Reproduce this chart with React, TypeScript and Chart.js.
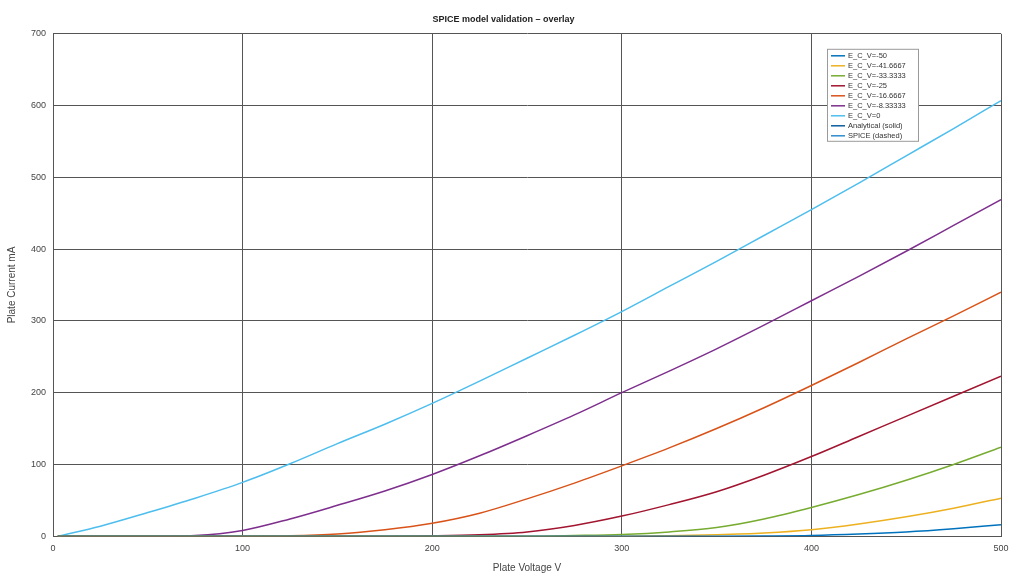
import React, { useEffect, useRef } from "react";
import { Chart, registerables } from "chart.js";

Chart.register(...registerables);

const FONT = "'Liberation Sans', Arial, sans-serif";

// plate voltage samples (V)
const voltages = [
  2.5, 25, 50, 75, 100, 125, 150, 175, 200, 225, 250, 275, 300, 325, 350, 375,
  400, 425, 450, 475, 500,
];

// plate current (mA)
const ecMinus50 = [
  0, 0, 0, 0, 0, 0, 0, 0, 0, 0, 0, 0, 0, 0, 0, 0.3, 1, 3, 6, 10.5, 16,
];
const ecMinus41 = [
  0, 0, 0, 0, 0, 0, 0, 0, 0, 0, 0, 0, 0, 0.5, 2, 4.5, 9, 17, 27, 39, 53,
];
const ecMinus33 = [
  0, 0, 0, 0, 0, 0, 0, 0, 0, 0, 0, 1, 2.5, 6, 12, 24, 40, 58, 78, 100, 124,
];
const ecMinus25 = [
  0, 0, 0, 0, 0, 0, 0, 0, 0.5, 2, 6, 15, 28, 44, 62, 85, 111, 139, 167, 195,
  223,
];
const ecMinus16 = [
  0, 0, 0, 0, 0, 0.5, 3, 9, 18, 32, 52, 74, 98, 123, 150, 179, 210, 242, 275,
  307, 340,
];
const ecMinus8 = [
  0, 0, 0, 1, 8, 24, 43, 63, 86, 112, 140, 169, 200, 230, 261, 294, 328, 362,
  397, 433, 469,
];
const ec0 = [
  0, 14, 33, 53, 75, 101, 129, 156, 185, 216, 248, 280, 313, 348, 383, 419,
  455, 492, 530, 568, 607,
];

const seriesLabels = [
  "E_C_V=-50",
  "E_C_V=-41.6667",
  "E_C_V=-33.3333",
  "E_C_V=-25",
  "E_C_V=-16.6667",
  "E_C_V=-8.33333",
  "E_C_V=0",
];
const seriesValues = [
  ecMinus50,
  ecMinus41,
  ecMinus33,
  ecMinus25,
  ecMinus16,
  ecMinus8,
  ec0,
];
const seriesColors = [
  "#0072BD",
  "#EDB120",
  "#77AC30",
  "#A2142F",
  "#D95319",
  "#7E2F8E",
  "#4DBEEE",
];

const extraLegend = [
  { label: "Analytical (solid)", color: "#0b5e9e" },
  { label: "SPICE (dashed)", color: "#2e8ccf" },
];

// legend box drawn inside the plot, top-right
const insideLegend = {
  id: "insideLegend",
  afterDraw(chart: Chart) {
    const { ctx, chartArea } = chart;
    const entries = [
      ...seriesLabels.map((label, i) => ({ label, color: seriesColors[i] })),
      ...extraLegend,
    ];
    const boxW = 91;
    const rowH = 10;
    const boxH = entries.length * rowH + 2;
    const x0 = chartArea.right - 174;
    const y0 = chartArea.top + 15;
    ctx.save();
    ctx.fillStyle = "#ffffff";
    ctx.fillRect(x0, y0, boxW, boxH);
    ctx.strokeStyle = "#9a9a9a";
    ctx.lineWidth = 1;
    ctx.strokeRect(x0 + 0.5, y0 + 0.5, boxW, boxH);
    ctx.font = `7.5px ${FONT}`;
    ctx.textBaseline = "middle";
    entries.forEach((e, i) => {
      const y = y0 + 7 + i * rowH;
      ctx.strokeStyle = e.color;
      ctx.lineWidth = 1.5;
      ctx.beginPath();
      ctx.moveTo(x0 + 4, y);
      ctx.lineTo(x0 + 18, y);
      ctx.stroke();
      ctx.fillStyle = "#333333";
      ctx.fillText(e.label, x0 + 21, y);
    });
    ctx.restore();
  },
};

export default function App() {
  const canvasRef = useRef<HTMLCanvasElement>(null);

  useEffect(() => {
    const ctx = canvasRef.current!.getContext("2d")!;
    const chart = new Chart(ctx, {
      type: "line",
      data: {
        datasets: seriesLabels.map((label, i) => ({
          label,
          data: voltages.map((v, j) => ({ x: v, y: seriesValues[i][j] })),
          borderColor: seriesColors[i],
          backgroundColor: seriesColors[i],
          borderWidth: 1.5,
          pointRadius: 0,
          cubicInterpolationMode: "monotone" as const,
          fill: false,
        })),
      },
      options: {
        animation: false,
        responsive: true,
        maintainAspectRatio: false,
        layout: { padding: { left: 6, right: 23, top: 4, bottom: 0 } },
        plugins: {
          legend: { display: false },
          tooltip: { enabled: false },
          title: {
            display: true,
            text: "SPICE model validation – overlay",
            color: "#222222",
            font: { family: FONT, size: 9, weight: "bold" },
            padding: { top: 10, bottom: 9 },
          },
        },
        scales: {
          x: {
            type: "linear",
            min: 0,
            max: 500,
            ticks: {
              stepSize: 100,
              color: "#444444",
              font: { family: FONT, size: 9 },
              padding: 7,
            },
            grid: {
              color: "#555555",
              lineWidth: 1,
              drawTicks: false,
            },
            border: { color: "#555555" },
            title: {
              display: true,
              text: "Plate Voltage V",
              color: "#444444",
              font: { family: FONT, size: 10 },
              padding: { top: 1, bottom: 2 },
            },
          },
          y: {
            min: 0,
            max: 700,
            ticks: {
              stepSize: 100,
              color: "#444444",
              font: { family: FONT, size: 9 },
              padding: 7,
            },
            grid: {
              color: "#555555",
              lineWidth: 1,
              drawTicks: false,
            },
            border: { color: "#555555" },
            title: {
              display: true,
              text: "Plate Current mA",
              color: "#444444",
              font: { family: FONT, size: 10 },
              padding: { top: 0, bottom: 6 },
            },
          },
        },
      },
      plugins: [insideLegend],
    });
    return () => {
      chart.destroy();
    };
  }, []);

  return (
    <div
      style={{
        position: "fixed",
        left: 0,
        top: 0,
        width: "1024px",
        height: "576px",
        background: "#ffffff",
      }}
    >
      <canvas ref={canvasRef} />
    </div>
  );
}
